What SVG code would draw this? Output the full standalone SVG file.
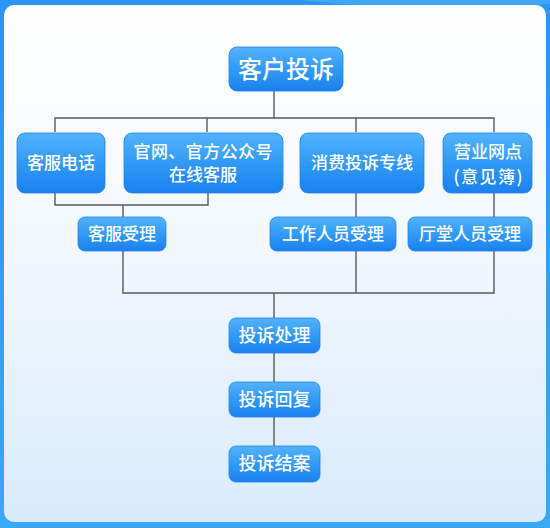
<svg xmlns="http://www.w3.org/2000/svg" width="550" height="528" viewBox="0 0 550 528">
<defs>
<linearGradient id="bg" x1="0" y1="0" x2="0" y2="1">
<stop offset="0" stop-color="#2a95f5"/>
<stop offset="1" stop-color="#3aa8f4"/>
</linearGradient>
<linearGradient id="panel" x1="0" y1="0" x2="0" y2="1">
<stop offset="0" stop-color="#ffffff"/>
<stop offset="0.45" stop-color="#f3f8fd"/>
<stop offset="1" stop-color="#d9ebfb"/>
</linearGradient>
<linearGradient id="box" x1="0" y1="0" x2="0" y2="1">
<stop offset="0" stop-color="#52b3fb"/>
<stop offset="0.55" stop-color="#2f98f6"/>
<stop offset="1" stop-color="#1a80ee"/>
</linearGradient>
<style>
.n rect{fill:url(#box);stroke:#1c86ef;stroke-width:0.8}
.n text{fill:#ffffff;font-family:"Noto Sans CJK SC","Noto Sans",sans-serif;font-size:17px;font-weight:500;text-anchor:middle}
.c{stroke:#5a5a5a;stroke-width:1.4;fill:none}
</style>
</defs>
<rect x="0" y="0" width="550" height="528" fill="url(#bg)"/>
<path d="M300 0 Q420 14 550 4 L550 0 Z" fill="#4fb2f7" opacity="0.6"/>
<rect x="4" y="5" width="542" height="517" rx="10" fill="url(#panel)"/>
<g id="connectors" class="c">
<path d="M274 91 V118"/>
<path d="M55 132 V118 H494 V132"/>
<path d="M207 118 V132"/>
<path d="M356 118 V132"/>
<path d="M55 193 V205 H208 V193"/>
<path d="M123 205 V217"/>
<path d="M123 251 V293 H494 V251"/>
<path d="M356 193 V217"/>
<path d="M356 251 V293"/>
<path d="M494 193 V217"/>
<path d="M274 293 V318"/>
<path d="M274 353 V382"/>
<path d="M274 417 V446"/>
</g>
<g id="n-top" class="n"><rect x="229" y="47" width="114" height="44" rx="8"/><text x="286" y="78" style="font-size:24px">客户投诉</text></g>
<g id="n-kfdh" class="n"><rect x="17" y="133" width="88" height="60" rx="8"/><text x="61" y="169">客服电话</text></g>
<g id="n-gw" class="n"><rect x="124" y="133" width="159" height="60" rx="8"/><text x="203" y="158" textLength="139" lengthAdjust="spacing">官网、官方公众号</text><text x="203" y="181">在线客服</text></g>
<g id="n-xf" class="n"><rect x="300" y="133" width="124" height="60" rx="8"/><text x="362" y="169">消费投诉专线</text></g>
<g id="n-yy" class="n"><rect x="443" y="133" width="89" height="60" rx="8"/><text x="488" y="158">营业网点</text><text x="488" y="183" textLength="69" lengthAdjust="spacing">(意见簿)</text></g>
<g id="n-kfsl" class="n"><rect x="78" y="217" width="88" height="34" rx="7"/><text x="122" y="240">客服受理</text></g>
<g id="n-gzry" class="n"><rect x="270" y="217" width="126" height="34" rx="7"/><text x="333" y="240">工作人员受理</text></g>
<g id="n-ttry" class="n"><rect x="408" y="217" width="124" height="34" rx="7"/><text x="470" y="240">厅堂人员受理</text></g>
<g id="n-cl" class="n"><rect x="229" y="318" width="91" height="35" rx="7"/><text x="274.5" y="342" style="font-size:18px">投诉处理</text></g>
<g id="n-hf" class="n"><rect x="229" y="382" width="91" height="35" rx="7"/><text x="274.5" y="406" style="font-size:18px">投诉回复</text></g>
<g id="n-ja" class="n"><rect x="229" y="446" width="91" height="36" rx="7"/><text x="274.5" y="470" style="font-size:18px">投诉结案</text></g>
</svg>
